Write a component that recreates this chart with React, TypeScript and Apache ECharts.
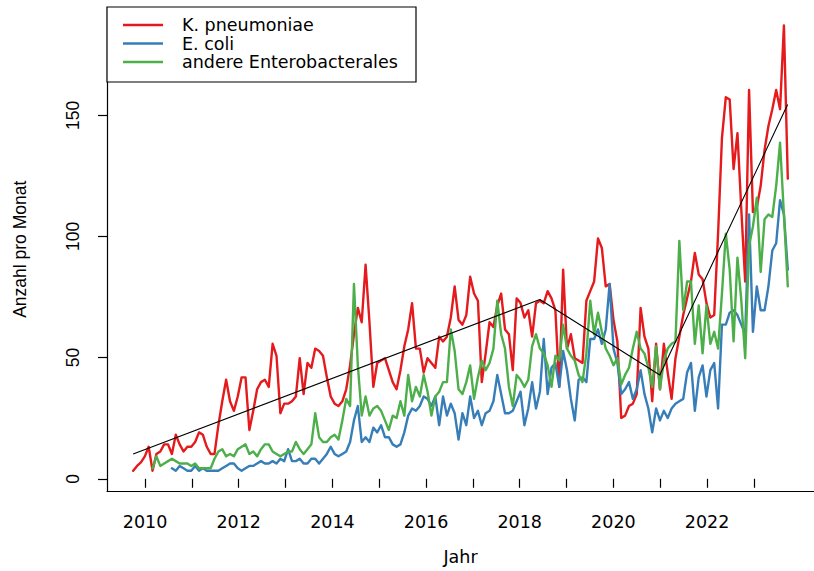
import React, { useEffect, useRef } from "react";
import * as echarts from "echarts";

// Monthly counts, first month = Oct 2009
const START_YEAR = 2009.75;

const kPneumoniae = [
  1, 3, 4.5, 7, 11, 1, 8, 9, 12, 12,
  8, 16, 12, 9, 11, 11, 13, 17, 16, 11,
  8, 8, 20, 30, 39, 30, 26, 32, 40, 40,
  18, 26, 35, 38, 39, 36, 54, 49, 25, 29,
  29, 30, 32, 48, 33, 46, 44, 52, 51, 49,
  40, 32, 29, 28, 30, 35, 45, 58, 69, 63,
  87, 63, 36, 46, 47, 48, 43, 38, 35, 43,
  53, 60, 71, 52, 52, 42, 48, 46, 44, 57,
  55, 57, 65, 78, 64, 62, 66, 82, 75, 72,
  38, 50, 63, 61, 70, 75, 60, 58, 43, 73,
  71, 65, 68, 57, 71, 72, 71, 76, 73, 68,
  36, 85, 52, 58, 48, 47, 46, 72, 76, 80,
  98, 94, 78, 79, 64, 55, 23, 24, 28, 29,
  33, 69, 57, 52, 30, 54, 35, 54, 42, 31,
  48, 57, 66, 73, 80, 92, 83, 81, 71, 65,
  66, 100, 140, 157, 156, 127, 142, 110, 80, 160,
  109, 111, 120, 135, 145, 152, 160, 152, 187, 123,
];

const eColi = [
  null, null, null, null, null, null, null, null, null, null,
  2, 1, 3, 2, 1, 1, 3, 1, 2, 1,
  1, 1, 1, 2, 3, 4, 4, 2, 1, 2,
  3, 3, 4, 5, 4, 4, 5, 4, 6, 5,
  10, 5, 5, 6, 4, 4, 6, 6, 4, 6,
  8, 11, 8, 7, 8, 9, 13, 22, 28, 13,
  15, 13, 19, 17, 20, 15, 15, 12, 11, 12,
  17, 24, 27, 26, 28, 32, 31, 28, 32, 20,
  32, 24, 29, 25, 14, 25, 20, 32, 23, 26,
  20, 25, 26, 30, 41, 33, 25, 25, 26, 30,
  34, 20, 27, 38, 27, 34, 56, 33, 44, 46,
  36, 51, 43, 31, 22, 39, 40, 38, 56, 56,
  60, 54, 60, 79, 52, 46, 33, 35, 38, 31,
  35, 43, 33, 27, 17, 27, 22, 26, 23, 27,
  29, 30, 31, 42, 46, 26, 40, 45, 32, 43,
  46, 27, 62, 62, 67, 68, 66, 62, 58, 108,
  59, 78, 68, 68, 78, 93, 96, 114, 108, 85,
];

const andereEnterobacterales = [
  null, null, null, null, null, 2, 7, 3, 4, 5,
  6, 5, 4, 4, 4, 3, 4, 2, 2, 2,
  2, 6, 9, 10, 7, 8, 7, 10, 11, 12,
  8, 9, 7, 10, 12, 12, 9, 8, 7, 8,
  9, 9, 13, 10, 8, 10, 12, 25, 15, 13,
  13, 15, 16, 14, 22, 31, 28, 79, 45, 24,
  32, 24, 27, 28, 26, 22, 18, 24, 23, 30,
  24, 41, 30, 36, 32, 41, 34, 24, 32, 34,
  38, 38, 60, 51, 35, 33, 38, 45, 31, 40,
  47, 43, 46, 52, 72, 58, 52, 36, 28, 41,
  39, 36, 39, 53, 58, 52, 50, 45, 36, 49,
  47, 62, 52, 49, 47, 41, 38, 50, 72, 58,
  67, 59, 52, 49, 45, 48, 37, 41, 44, 52,
  59, 52, 50, 44, 36, 53, 35, 47, 52, 54,
  55, 97, 68, 80, 80, 54, 70, 50, 70, 54,
  59, 52, 75, 100, 85, 55, 90, 72, 48, 95,
  103, 115, 84, 106, 108, 107, 120, 138, 108, 78,
];

// Segmented trend (breakpoints)
const trendYears = [2009.75, 2018.5, 2021.08, 2023.83];
const trendValues = [8, 72.5, 41, 154];

const seriesNames = ["K. pneumoniae", "E. coli", "andere Enterobacterales"];
const seriesColors = ["#E41A1C", "#377EB8", "#4DAF4A"];

const xTickFirst = 2010;
const xTickLast = 2023;
const yTickFirst = 0;
const yTickLast = 150;
const yTickStep = 50;

// axis ranges (R style 4% expansion)
const XMIN = 2009.187;
const XMAX = 2024.397;
const YMIN = -7.48;
const YMAX = 194.48;

export default function App() {
  const ref = useRef<HTMLDivElement>(null);

  useEffect(() => {
    document.body.style.margin = "0";
    if (!ref.current) return;
    const chart = echarts.init(ref.current, undefined, { renderer: "svg" });

    const PL = 107;
    const PW = 712.3;
    const PT = 7.5;
    const PH = 489.4;
    const xPix = (t: number) => PL + ((t - XMIN) / (XMAX - XMIN)) * PW;
    const yPix = (v: number) => PT + PH - ((v - YMIN) / (YMAX - YMIN)) * PH;

    const g2Left = xPix(xTickFirst);
    const g2Width = xPix(xTickLast) - g2Left;
    const g2Top = yPix(yTickLast);
    const g2Height = yPix(yTickFirst) - g2Top;

    const hFont = "DejaVu Sans";
    const vFont = "Liberation Sans";
    const fs = 17.5;

    const toPts = (arr: (number | null)[]) =>
      arr.map((v, i) => [START_YEAR + i / 12, v]);

    const allData = [kPneumoniae, eColi, andereEnterobacterales];

    const series: any[] = allData.map((arr, k) => ({
      type: "line",
      name: seriesNames[k],
      xAxisIndex: 0,
      yAxisIndex: 0,
      data: toPts(arr),
      showSymbol: false,
      symbol: "none",
      connectNulls: false,
      z: 2 + k,
      lineStyle: { color: seriesColors[k], width: 2.4, join: "round", cap: "round" },
      itemStyle: { color: seriesColors[k] },
    }));
    series.push({
      type: "line",
      name: "Trend",
      xAxisIndex: 0,
      yAxisIndex: 0,
      data: trendYears.map((t, i) => [t, trendValues[i]]),
      showSymbol: false,
      symbol: "none",
      z: 10,
      lineStyle: { color: "#000", width: 1.1 },
    });

    // legend drawn as graphic
    const lgX = 107;
    const lgY = 7;
    const lgW = 309;
    const lgH = 75;
    const rowY = [25, 43.5, 62];
    const legendEls: any[] = [
      {
        type: "rect",
        shape: { x: lgX, y: lgY, width: lgW, height: lgH },
        style: { fill: "#fff", stroke: "#000", lineWidth: 1.2 },
        z: 100,
      },
    ];
    seriesNames.forEach((name, k) => {
      legendEls.push({
        type: "line",
        shape: { x1: 123, y1: rowY[k], x2: 163, y2: rowY[k] },
        style: { stroke: seriesColors[k], lineWidth: 2.4 },
        z: 101,
      });
      legendEls.push({
        type: "text",
        x: 182,
        y: rowY[k],
        style: {
          text: name,
          font: `17.5px "${hFont}"`,
          lineHeight: 16,
          fill: "#000",
          verticalAlign: "middle",
        },
        z: 101,
      });
    });

    const option: any = {
      animation: false,
      backgroundColor: "#fff",
      grid: [
        { left: PL, top: PT, width: PW, height: PH },
        { left: g2Left, top: g2Top, width: g2Width, height: g2Height },
      ],
      xAxis: [
        {
          type: "value",
          gridIndex: 0,
          min: XMIN,
          max: XMAX,
          axisLine: { show: true, onZero: false, lineStyle: { color: "#000", width: 1.2 } },
          axisTick: { show: false },
          axisLabel: { show: false },
          splitLine: { show: false },
          name: "Jahr",
          nameLocation: "middle",
          nameGap: 57,
          nameTextStyle: { fontFamily: hFont, fontSize: fs, color: "#000" },
        },
        {
          type: "value",
          gridIndex: 1,
          min: xTickFirst,
          max: xTickLast,
          interval: 1,
          offset: PT + PH - (g2Top + g2Height),
          axisLine: { show: false },
          axisTick: { show: true, length: 9, lineStyle: { color: "#000", width: 1.2 } },
          axisLabel: {
            show: true,
            margin: 16,
            fontFamily: hFont,
            fontSize: fs,
            color: "#000",
            formatter: (v: number) => (Math.round(v) % 2 === 0 ? String(Math.round(v)) : ""),
          },
          splitLine: { show: false },
        },
      ],
      yAxis: [
        {
          type: "value",
          gridIndex: 0,
          min: YMIN,
          max: YMAX,
          axisLine: { show: true, onZero: false, lineStyle: { color: "#000", width: 1.2 } },
          axisTick: { show: false },
          axisLabel: { show: false },
          splitLine: { show: false },
          name: "Anzahl pro Monat",
          nameLocation: "middle",
          nameGap: 78,
          nameTextStyle: { fontFamily: vFont, fontSize: fs, color: "#000" },
        },
        {
          type: "value",
          gridIndex: 1,
          min: yTickFirst,
          max: yTickLast,
          interval: yTickStep,
          offset: g2Left - PL,
          axisLine: { show: false },
          axisTick: { show: true, length: 9, lineStyle: { color: "#000", width: 1.2 } },
          axisLabel: {
            show: true,
            rotate: 90,
            margin: 25,
            fontFamily: vFont,
            fontSize: fs,
            color: "#000",
          },
          splitLine: { show: false },
        },
      ],
      series,
      graphic: legendEls,
    };

    chart.setOption(option);
    return () => {
      chart.dispose();
    };
  }, []);

  return <div ref={ref} style={{ width: 814, height: 571 }} />;
}
